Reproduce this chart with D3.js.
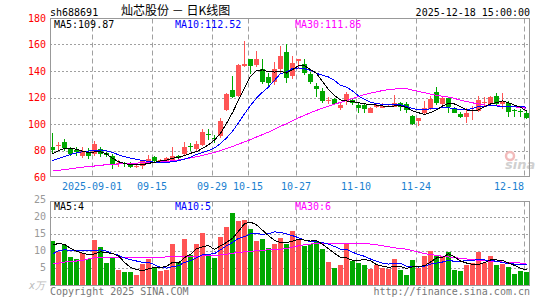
<!DOCTYPE html>
<html>
<head>
<meta charset="utf-8">
<script src="https://cdn.jsdelivr.net/npm/d3@7/dist/d3.min.js"></script>
<style>
  body { margin: 0; background: #fff; }
  svg { display: block; }
  text { font-family: "DejaVu Sans Mono", monospace; font-size: 10px; }
</style>
</head>
<body>
<svg width="545" height="300"></svg>
<script>
// trading days shown on the chart
var dates = [
  '08-21','08-22','08-25','08-26','08-27','08-28','08-29',
  '09-01','09-02','09-03','09-04','09-05','09-08','09-09','09-10','09-11','09-12',
  '09-15','09-16','09-17','09-18','09-19','09-22','09-23','09-24','09-25','09-26',
  '09-29','09-30',
  '10-09','10-10','10-13','10-14','10-15','10-16','10-17','10-20','10-21','10-22','10-23','10-24',
  '10-27','10-28','10-29','10-30','10-31',
  '11-03','11-04','11-05','11-06','11-07','11-10','11-11','11-12','11-13','11-14',
  '11-17','11-18','11-19','11-20','11-21','11-24','11-25','11-26','11-27','11-28',
  '12-01','12-02','12-03','12-04','12-05','12-08','12-09','12-10','12-11','12-12',
  '12-15','12-16','12-17','12-18'
];

var opens = [82.6,83.7,86.3,80.8,80.1,76.2,78.5,77.3,81.0,77.8,
  75.6,69.5,70.3,70.3,67.8,68.0,71.8,75.3,72.0,72.2,
  73.0,75.8,77.4,83.3,80.9,84.2,92.2,89.5,90.9,110.6,
  125.7,121.1,143.8,148.8,144.5,141.3,135.2,131.9,141.3,154.6,
  136.2,147.8,145.0,137.7,128.7,124.9,117.6,118.9,112.3,117.4,
  118.1,114.3,114.3,108.5,112.6,112.3,113.2,113.1,115.6,115.1,
  106.0,102.5,108.1,111.1,124.2,115.1,119.4,111.8,107.5,105.5,
  110.4,110.0,115.8,115.0,120.8,115.3,115.6,110.8,109.6,108.5];
var closes = [80.4,84.1,81.8,77.6,79.1,80.0,76.0,85.0,77.3,76.3,
  69.9,70.8,69.6,67.8,68.6,72.0,73.6,72.3,73.2,74.0,
  75.8,74.6,82.9,82.5,84.9,94.2,91.5,88.8,102.5,122.6,
  120.6,144.5,145.0,143.8,148.8,131.9,130.7,141.3,151.3,135.0,
  146.3,148.8,138.7,131.9,126.2,117.4,118.0,115.1,114.3,122.4,
  115.6,112.3,111.3,112.3,114.0,113.6,113.8,115.6,112.6,110.6,
  100.0,104.8,111.8,118.6,116.1,120.0,113.1,108.5,105.5,108.5,
  110.8,118.1,116.3,120.4,115.4,117.3,109.3,110.4,109.2,104.3];
var highs = [93.4,86.6,88.6,82.6,82.5,82.9,82.0,87.0,83.0,79.0,
  77.0,72.6,71.5,71.5,69.5,73.0,76.6,76.2,73.8,75.0,
  83.0,76.6,86.5,86.0,86.8,96.0,96.5,92.0,104.5,123.5,
  136.2,145.0,162.6,149.0,155.3,148.8,138.5,147.0,158.9,160.4,
  151.3,148.8,148.8,139.5,130.7,126.9,120.6,120.0,116.8,124.4,
  119.5,115.6,115.5,113.0,115.5,116.0,115.0,121.9,116.5,116.8,
  106.8,104.8,117.6,121.4,128.2,120.5,120.0,113.0,109.3,111.8,
  113.4,121.1,120.5,121.5,123.6,123.2,117.6,111.3,111.0,110.6];
var lows = [78.0,80.5,80.0,76.2,75.8,74.5,73.8,75.8,74.8,74.8,
  66.4,67.3,67.8,66.6,67.0,66.4,70.4,71.0,71.0,71.5,
  72.5,73.6,76.8,79.5,80.0,83.5,88.0,85.3,89.5,109.8,
  119.4,120.5,142.8,137.5,143.2,130.2,128.5,129.4,138.7,130.7,
  133.7,141.3,137.0,130.0,120.6,115.6,115.1,114.0,110.6,114.3,
  114.0,108.5,108.5,108.0,112.0,112.0,112.5,112.6,110.0,108.5,
  99.2,98.5,107.5,110.6,114.3,114.5,108.5,108.0,104.3,101.0,
  103.0,109.3,112.5,114.5,114.3,111.5,105.0,105.0,105.0,103.5];

var ma5 = [77.4,79.8,81.7,81.7,80.9,79.6,78.3,78.9,79.1,77.4,
  74.1,71.5,70.3,69.1,69.1,69.3,70.3,71.1,72.1,72.8,
  74.1,74.9,76.1,77.9,79.1,81.7,84.2,87.9,93.0,100.5,
  108.5,118.0,127.0,136.0,140.5,140.8,139.5,139.2,139.8,138.5,
  140.9,144.0,144.0,141.0,138.3,132.0,126.0,121.5,118.2,117.4,
  117.1,116.0,115.2,114.8,114.3,113.6,113.2,113.6,113.6,112.6,
  110.0,108.5,107.3,108.6,110.6,113.6,115.5,115.1,113.1,110.6,
  110.0,110.6,113.1,115.1,116.1,117.4,116.1,114.3,112.6,109.87];
var ma10 = [72.3,74.0,75.5,77.0,78.3,79.0,79.6,80.2,80.4,79.8,
  78.5,76.8,75.3,74.2,73.4,72.5,71.8,71.2,70.9,71.0,
  71.5,72.3,73.5,75.0,77.0,78.5,80.0,82.0,85.2,89.5,
  94.5,101.0,107.7,114.0,119.5,124.0,127.9,133.0,138.0,139.3,
  141.9,142.3,141.7,140.5,138.2,136.8,135.5,132.9,129.2,127.9,
  124.9,121.2,118.5,116.5,115.3,114.9,114.5,114.5,114.4,113.2,
  111.6,110.9,110.9,111.5,111.7,112.4,112.3,111.6,110.9,110.7,
  111.8,113.1,113.5,113.7,113.6,113.4,113.0,113.2,113.5,112.52];
var ma30 = [64.5,65.0,65.6,66.2,66.8,67.4,67.9,68.3,68.8,69.3,
  69.6,69.8,70.0,70.3,70.5,70.7,70.9,71.1,71.3,71.6,
  72.3,72.9,73.6,74.4,75.3,76.3,77.4,78.6,80.0,81.5,
  83.0,84.8,86.5,88.2,90.2,92.0,93.9,96.0,98.2,100.3,
  102.5,104.6,106.6,108.5,110.3,111.9,113.4,114.9,116.3,117.8,
  119.3,120.8,122.2,123.3,124.3,125.2,125.9,126.4,126.7,126.8,
  125.6,124.6,123.6,122.6,121.6,121.0,120.3,119.3,118.0,117.0,
  116.0,115.1,114.4,114.0,113.7,113.5,113.2,112.9,112.5,111.86];

var volumes = [12.9,9.7,11.8,8.2,7.6,9.6,7.6,13.2,11.2,6.4,
  8.0,4.3,3.7,3.7,3.1,6.1,7.6,5.4,4.0,4.3,
  12.1,6.8,13.5,9.0,12.0,15.3,8.5,7.9,14.1,17.1,
  21.3,18.9,19.2,16.5,12.9,13.5,10.9,12.1,13.8,12.1,
  15.9,13.5,11.4,12.1,12.7,10.6,6.8,4.9,5.8,12.1,
  7.1,6.6,5.8,4.6,5.8,5.0,4.6,7.6,4.3,3.1,
  7.4,5.0,8.6,10.1,8.8,8.6,9.7,4.3,4.1,5.8,
  6.6,9.7,6.6,8.5,5.8,6.1,5.4,3.4,4.0,3.7];
var volMa5 = [11.8,12.3,12.0,10.9,10.0,9.4,9.0,9.2,9.8,9.6,
  9.3,8.6,6.7,5.2,4.6,4.2,4.8,5.2,5.2,5.5,
  6.7,6.5,8.1,9.1,10.7,11.3,11.7,10.5,11.6,12.6,
  13.8,15.9,18.1,18.6,17.8,16.2,14.6,13.2,12.6,12.5,
  13.0,13.5,13.3,13.0,13.1,12.1,10.7,9.4,8.2,8.0,
  7.3,7.3,7.5,7.2,6.0,5.6,5.2,5.5,5.5,4.9,
  5.4,5.5,5.7,6.8,8.0,8.2,9.2,8.3,7.1,6.5,
  6.1,6.1,6.6,7.4,7.4,7.3,6.5,5.8,4.9,4.5];
var volMa10 = [9.1,10.2,10.4,10.3,10.3,10.3,10.3,10.2,10.4,10.0,
  9.3,8.8,8.0,7.5,7.1,6.7,6.7,6.0,5.2,5.0,
  5.4,5.7,6.7,7.2,8.1,9.0,9.1,9.3,10.4,11.6,
  12.6,13.8,14.3,15.1,15.2,15.0,15.2,15.7,15.6,15.1,
  14.6,14.0,13.3,12.8,12.8,12.5,12.1,11.4,10.6,10.6,
  9.7,9.0,8.5,7.7,7.0,6.5,6.2,6.5,6.4,5.5,
  5.5,5.3,5.6,6.2,6.5,6.8,7.3,7.0,7.0,7.2,
  7.2,7.6,7.4,7.3,7.0,6.7,6.3,6.2,6.2,6.0];
var volMa30 = [6.2,6.5,6.8,7.0,7.1,7.3,7.7,8.1,8.1,8.1,
  8.1,8.1,8.1,8.1,8.1,8.1,8.2,8.2,8.2,8.3,
  8.3,8.4,8.4,8.5,8.5,8.6,8.6,8.7,8.9,9.1,
  9.4,9.6,9.8,10.0,10.1,10.3,10.4,10.5,10.6,10.8,
  11.2,11.6,11.9,12.1,12.3,12.3,12.3,12.3,12.3,12.3,
  12.3,12.3,12.3,12.1,11.9,11.6,11.3,11.0,10.8,10.6,
  10.2,9.7,9.3,9.0,8.8,8.5,8.3,8.1,7.9,7.7,
  7.5,7.3,7.2,7.0,6.9,6.8,6.7,6.6,6.5,6.4];

var priceTicks = [180, 160, 140, 120, 100, 80, 60];
var volTicks = [25, 20, 15, 10, 5];
var dateTicks = ['09-01','09-15','09-29','10-15','10-27','11-10','11-24','12-18'];
var dateTickLabels = ['2025-09-01','09-15','09-29','10-15','10-27','11-10','11-24','12-18'];

var RED = '#ff5555', GREEN = '#00a800';
var svg = d3.select('svg');

var x = d3.scaleBand().domain(dates).range([50, 530]).padding(0);
var yP = d3.scaleLinear().domain([60, 180]).range([177, 18]);
var yV = d3.scaleLinear().domain([0, 25]).range([285, 200.5]);
var cx = d => x(d) + 2.5;

// header
svg.append('text').attr('x', 50).attr('y', 15.5).text('sh688691');
svg.append('text').attr('x', 121).attr('y', 15)
  .style('font-family', '"Noto Sans CJK SC", sans-serif').style('font-size', '12px')
  .text('灿芯股份 － 日K线图');
svg.append('text').attr('x', 530).attr('y', 15.5).attr('text-anchor', 'end')
  .text('2025-12-18 15:00:00');

function panel(top, bottom, y, gridTicks) {
  var g = svg.append('g');
  g.selectAll('line.h').data(gridTicks).enter().append('line')
    .attr('x1', 50).attr('x2', 530)
    .attr('y1', d => Math.round(y(d)) + 0.5).attr('y2', d => Math.round(y(d)) + 0.5)
    .attr('stroke', '#a0a0a0').attr('stroke-dasharray', '2,2');
  g.selectAll('line.v').data(dateTicks).enter().append('line')
    .attr('x1', d => x(d) + 0.5).attr('x2', d => x(d) + 0.5)
    .attr('y1', top).attr('y2', bottom)
    .attr('stroke', '#a0a0a0').attr('stroke-dasharray', '5,3');
  return g;
}

// price panel grid
panel(18.5, 177, yP, [160, 140, 120, 100, 80]);
// volume panel grid
panel(201.5, 285, yV, [20, 15, 10, 5]);

// watermark
var wm = svg.append('g');
wm.append('circle').attr('cx', 510).attr('cy', 156).attr('r', 4)
  .attr('fill', 'none').attr('stroke', '#f2bcbc').attr('stroke-width', 2.5);
wm.append('text').attr('x', 505).attr('y', 168.5)
  .style('font-family', '"DejaVu Sans", sans-serif').style('font-size', '13px')
  .style('font-weight', 'bold').style('font-style', 'italic')
  .attr('fill', '#d0d0d0').text('sina');

// candles
var up = i => closes[i] >= opens[i];
var candles = svg.append('g').attr('shape-rendering', 'crispEdges');
candles.selectAll('rect.wick').data(dates).enter().append('rect')
  .attr('x', d => x(d) + 2).attr('width', 1)
  .attr('y', (d, i) => Math.round(yP(highs[i])))
  .attr('height', (d, i) => Math.max(1, Math.round(yP(lows[i])) - Math.round(yP(highs[i]))))
  .attr('fill', (d, i) => up(i) ? RED : GREEN);
candles.selectAll('rect.body').data(dates).enter().append('rect')
  .attr('x', d => x(d)).attr('width', 5)
  .attr('y', (d, i) => Math.round(yP(Math.max(opens[i], closes[i]))))
  .attr('height', (d, i) => Math.max(1, Math.round(yP(Math.min(opens[i], closes[i]))) - Math.round(yP(Math.max(opens[i], closes[i])))))
  .attr('fill', (d, i) => up(i) ? RED : GREEN);

// volume bars
svg.append('g').attr('shape-rendering', 'crispEdges')
  .selectAll('rect').data(dates).enter().append('rect')
  .attr('x', d => x(d)).attr('width', 5)
  .attr('y', (d, i) => Math.round(yV(volumes[i])))
  .attr('height', (d, i) => 285 - Math.round(yV(volumes[i])))
  .attr('fill', (d, i) => up(i) ? RED : GREEN);

// moving average lines
function maLine(values, y, color) {
  var line = d3.line().x(d => cx(d)).y((d, i) => y(values[i]));
  svg.append('path').datum(dates).attr('d', line)
    .attr('fill', 'none').attr('stroke', color).attr('stroke-width', 1)
    .attr('shape-rendering', 'crispEdges');
}
maLine(ma30, yP, '#ff00ff');
maLine(ma10, yP, '#0000ff');
maLine(ma5, yP, '#000000');
maLine(volMa30, yV, '#ff00ff');
maLine(volMa10, yV, '#0000ff');
maLine(volMa5, yV, '#000000');

// frames
svg.append('rect').attr('x', 50.5).attr('y', 18.5).attr('width', 479).attr('height', 158)
  .attr('fill', 'none').attr('stroke', '#999');
svg.append('rect').attr('x', 50.5).attr('y', 201.5).attr('width', 479).attr('height', 84)
  .attr('fill', 'none').attr('stroke', '#999');

// price axis labels
svg.selectAll('text.py').data(priceTicks).enter().append('text')
  .attr('x', 46).attr('y', d => yP(d)).attr('dy', '0.35em')
  .attr('text-anchor', 'end').attr('fill', '#ff0000').text(d => d);

// volume axis labels
svg.selectAll('text.vy').data(volTicks).enter().append('text')
  .attr('x', 46).attr('y', d => yV(d) - 1).attr('dy', '0.35em')
  .attr('text-anchor', 'end').attr('fill', '#999').text(d => d);
svg.append('text').attr('x', 29).attr('y', 289).attr('fill', '#bbb')
  .style('font-style', 'italic').text('x万');

// date labels (the last one is kept inside the frame)
var lastTick = dateTicks[dateTicks.length - 1];
svg.selectAll('text.dx').data(dateTicks).enter().append('text')
  .attr('x', d => d === lastTick ? x(d) : x(d))
  .attr('y', 190)
  .attr('text-anchor', d => d === lastTick ? 'end' : 'middle')
  .attr('fill', '#1a7fd0')
  .text((d, i) => dateTickLabels[i]);

// legends
var legends = [
  {x: 54, y: 28, t: 'MA5:' + ma5[ma5.length - 1].toFixed(2), c: '#000'},
  {x: 175, y: 28, t: 'MA10:' + ma10[ma10.length - 1].toFixed(2), c: '#0000ff'},
  {x: 295, y: 28, t: 'MA30:' + ma30[ma30.length - 1].toFixed(2), c: '#ff00ff'},
  {x: 54, y: 209.5, t: 'MA5:4', c: '#000'},
  {x: 175, y: 209.5, t: 'MA10:5', c: '#0000ff'},
  {x: 295, y: 209.5, t: 'MA30:6', c: '#ff00ff'}
];
svg.selectAll('text.lg').data(legends).enter().append('text')
  .attr('x', d => d.x).attr('y', d => d.y).attr('fill', d => d.c).text(d => d.t);

// footer
svg.append('text').attr('x', 50).attr('y', 294.5).attr('fill', '#777')
  .text('Copyright 2025 SINA.COM');
svg.append('text').attr('x', 530).attr('y', 294.5).attr('text-anchor', 'end')
  .attr('fill', '#777').text('http://finance.sina.com.cn');
</script>
</body>
</html>
